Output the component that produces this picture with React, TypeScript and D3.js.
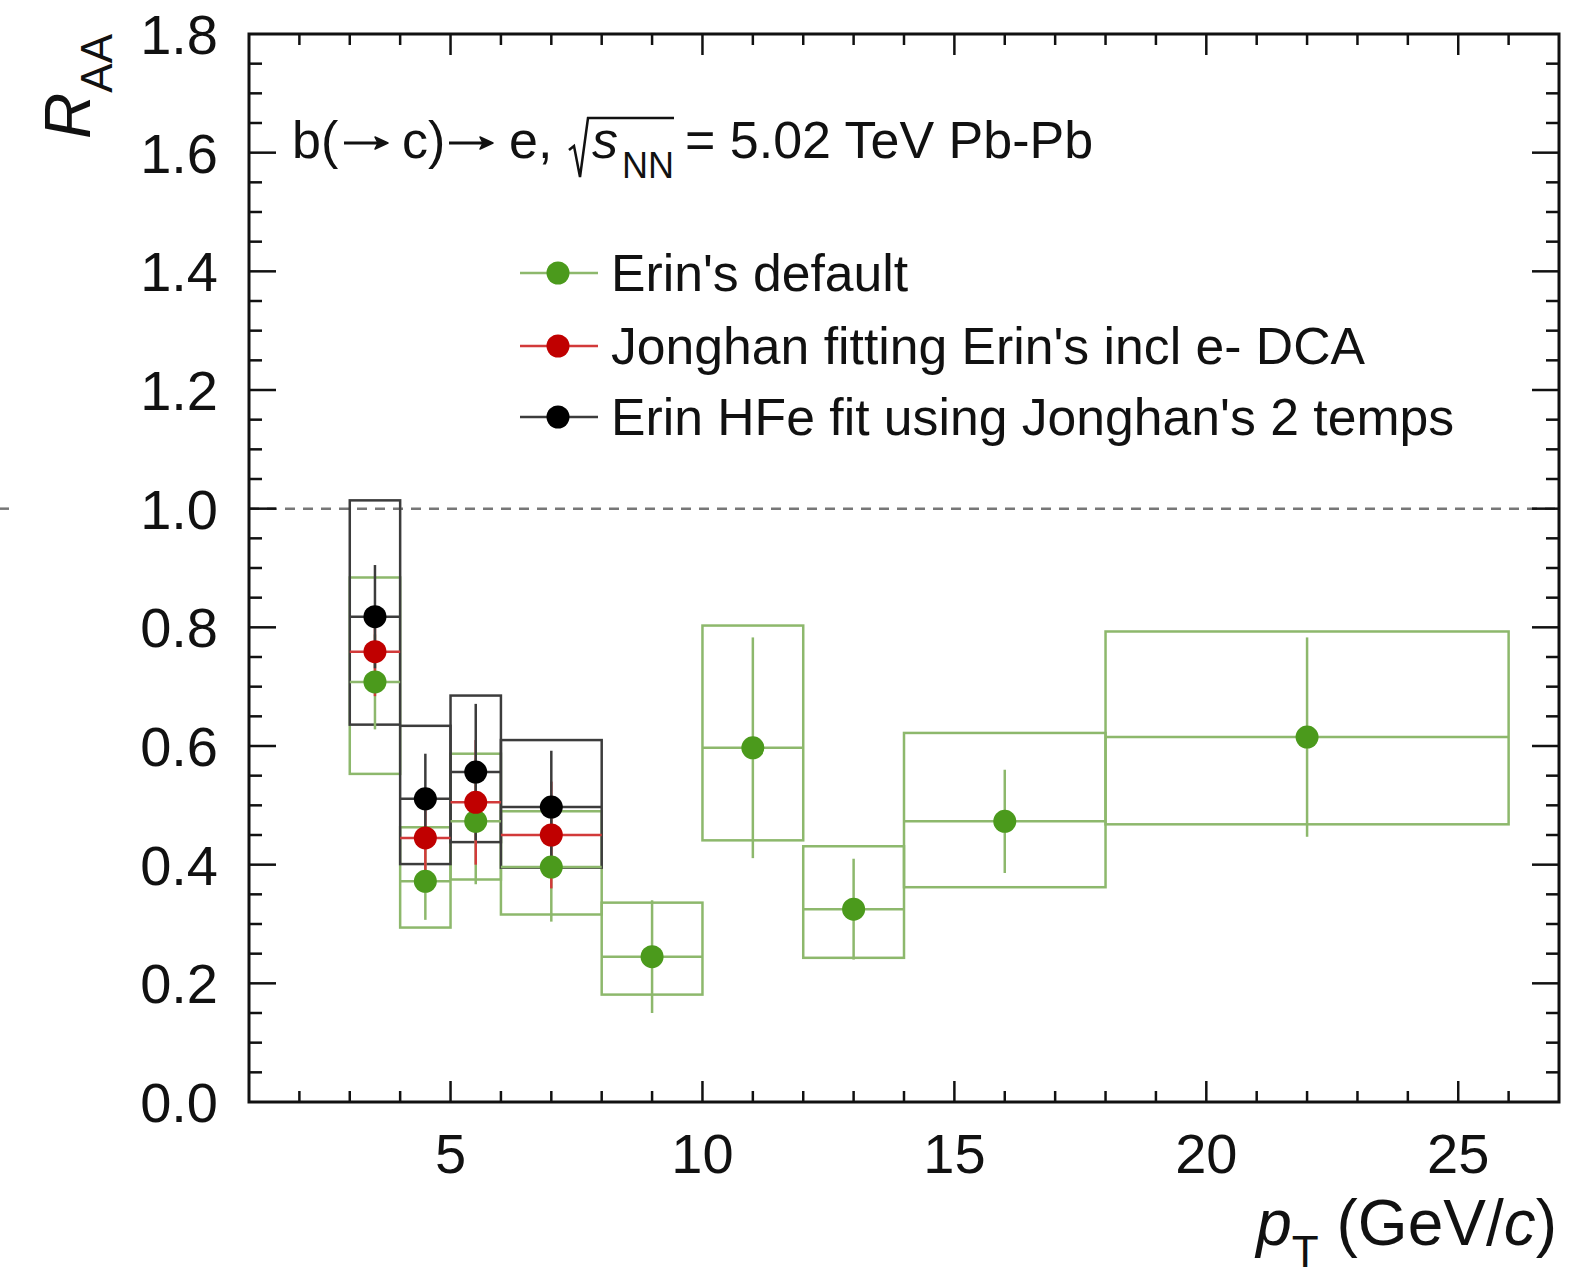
import React, { useEffect, useRef } from 'react';
import * as d3 from 'd3';

const W = 1569;
const H = 1269;

// Bins (pT, GeV/c)
const binLo = [3, 4, 5, 6, 8, 10, 12, 14, 18];
const binHi = [4, 5, 6, 8, 10, 12, 14, 18, 26];

// Erin's default (green)
const erinVal = [0.708, 0.372, 0.473, 0.396, 0.245, 0.597, 0.325, 0.473, 0.615];
const erinStat = [0.08, 0.065, 0.106, 0.092, 0.095, 0.186, 0.085, 0.087, 0.168];
const erinSysLo = [0.553, 0.294, 0.375, 0.316, 0.181, 0.441, 0.243, 0.362, 0.468];
const erinSysHi = [0.884, 0.463, 0.587, 0.49, 0.336, 0.803, 0.431, 0.622, 0.793];

// Jonghan fitting Erin's incl e- DCA (red)
const jongLo = [3, 4, 5, 6];
const jongHi = [4, 5, 6, 8];
const jongVal = [0.759, 0.445, 0.505, 0.45];
const jongStat = [0.075, 0.065, 0.105, 0.09];

// Erin HFe fit using Jonghan's 2 temps (black)
const hfeLo = [3, 4, 5, 6];
const hfeHi = [4, 5, 6, 8];
const hfeVal = [0.818, 0.511, 0.556, 0.497];
const hfeStat = [0.087, 0.076, 0.115, 0.095];
const hfeSysLo = [0.636, 0.401, 0.438, 0.395];
const hfeSysHi = [1.014, 0.634, 0.685, 0.61];

const yTicks = [0, 0.2, 0.4, 0.6, 0.8, 1.0, 1.2, 1.4, 1.6, 1.8];
const yTickLabels = ['0.0', '0.2', '0.4', '0.6', '0.8', '1.0', '1.2', '1.4', '1.6', '1.8'];
const xTicks = [5, 10, 15, 20, 25];
const xTickLabels = ['5', '10', '15', '20', '25'];
const legendLabels = [
  "Erin's default",
  "Jonghan fitting Erin's incl e- DCA",
  "Erin HFe fit using Jonghan's 2 temps",
];

const GREEN = '#4b9a1c';
const GREEN_LINE = '#8db86c';
const RED = '#c00000';
const RED_LINE = '#d23a3a';
const BLACK = '#000000';
const BLACK_LINE = '#3c3c3c';
const FONT = '"Liberation Sans", Arial, Helvetica, sans-serif';

export default function App() {
  const ref = useRef<SVGSVGElement | null>(null);

  useEffect(() => {
    const svg = d3.select(ref.current);
    svg.selectAll('*').remove();

    const x0 = 249, x1 = 1559, y0 = 34, y1 = 1102;
    const x = d3.scaleLinear().domain([1, 27]).range([x0, x1]);
    const y = d3.scaleLinear().domain([0, 1.8]).range([y1, y0]);

    svg.append('rect').attr('width', W).attr('height', H).attr('fill', '#fff');

    // dashed line at 1
    svg.append('line').attr('x1', 0).attr('x2', 9).attr('y1', y(1)).attr('y2', y(1))
      .attr('stroke', '#777').attr('stroke-width', 2.5);
    svg.append('line').attr('x1', x0).attr('x2', x1).attr('y1', y(1)).attr('y2', y(1))
      .attr('stroke', '#777').attr('stroke-width', 2.5).attr('stroke-dasharray', '10,8');

    const g = svg.append('g');

    const drawBoxes = (lo: number[], hi: number[], sLo: number[], sHi: number[], color: string) => {
      lo.forEach((l, i) => {
        g.append('rect')
          .attr('x', x(l)).attr('y', y(sHi[i]))
          .attr('width', x(hi[i]) - x(l)).attr('height', y(sLo[i]) - y(sHi[i]))
          .attr('fill', 'none').attr('stroke', color).attr('stroke-width', 2.5);
      });
    };
    const drawErr = (lo: number[], hi: number[], v: number[], s: number[], color: string) => {
      lo.forEach((l, i) => {
        const cx = x((l + hi[i]) / 2);
        g.append('line').attr('x1', x(l)).attr('x2', x(hi[i])).attr('y1', y(v[i])).attr('y2', y(v[i]))
          .attr('stroke', color).attr('stroke-width', 2.5);
        g.append('line').attr('x1', cx).attr('x2', cx).attr('y1', y(v[i] + s[i])).attr('y2', y(v[i] - s[i]))
          .attr('stroke', color).attr('stroke-width', 2.5);
      });
    };
    const drawPts = (lo: number[], hi: number[], v: number[], color: string) => {
      lo.forEach((l, i) => {
        g.append('circle').attr('cx', x((l + hi[i]) / 2)).attr('cy', y(v[i])).attr('r', 11.5).attr('fill', color);
      });
    };

    drawBoxes(binLo, binHi, erinSysLo, erinSysHi, GREEN_LINE);
    drawBoxes(hfeLo, hfeHi, hfeSysLo, hfeSysHi, BLACK_LINE);
    drawErr(binLo, binHi, erinVal, erinStat, GREEN_LINE);
    drawErr(jongLo, jongHi, jongVal, jongStat, RED_LINE);
    drawErr(hfeLo, hfeHi, hfeVal, hfeStat, BLACK_LINE);
    drawPts(binLo, binHi, erinVal, GREEN);
    drawPts(jongLo, jongHi, jongVal, RED);
    drawPts(hfeLo, hfeHi, hfeVal, BLACK);

    // frame
    svg.append('rect').attr('x', x0).attr('y', y0).attr('width', x1 - x0).attr('height', y1 - y0)
      .attr('fill', 'none').attr('stroke', '#111').attr('stroke-width', 3);

    // ticks
    const tk = svg.append('g').attr('stroke', '#111').attr('stroke-width', 2.5);
    for (let v = 2; v <= 26; v++) {
      const major = v % 5 === 0;
      const len = major ? 21 : 11;
      tk.append('line').attr('x1', x(v)).attr('x2', x(v)).attr('y1', y1).attr('y2', y1 - len);
      tk.append('line').attr('x1', x(v)).attr('x2', x(v)).attr('y1', y0).attr('y2', y0 + len);
    }
    for (let k = 1; k < 36; k++) {
      const v = k * 0.05;
      const major = k % 4 === 0;
      const len = major ? 27 : 13;
      tk.append('line').attr('x1', x0).attr('x2', x0 + len).attr('y1', y(v)).attr('y2', y(v));
      tk.append('line').attr('x1', x1).attr('x2', x1 - len).attr('y1', y(v)).attr('y2', y(v));
    }

    // tick labels
    yTicks.forEach((v, i) => {
      svg.append('text').attr('x', 218).attr('y', y(v) + 20).attr('text-anchor', 'end')
        .attr('font-family', FONT).attr('font-size', 56).attr('fill', '#111').text(yTickLabels[i]);
    });
    xTicks.forEach((v, i) => {
      svg.append('text').attr('x', x(v)).attr('y', 1173).attr('text-anchor', 'middle')
        .attr('font-family', FONT).attr('font-size', 56).attr('fill', '#111').text(xTickLabels[i]);
    });

    // axis titles
    const xt = svg.append('text').attr('x', 1557).attr('y', 1245).attr('text-anchor', 'end')
      .attr('font-family', FONT).attr('font-size', 64).attr('fill', '#111');
    xt.append('tspan').attr('font-style', 'italic').text('p');
    xt.append('tspan').attr('font-size', 44).attr('dy', 22).text('T');
    xt.append('tspan').attr('dy', -22).text(' (GeV/');
    xt.append('tspan').attr('font-style', 'italic').text('c');
    xt.append('tspan').text(')');

    const yt = svg.append('text').attr('transform', 'translate(90,34) rotate(-90)').attr('text-anchor', 'end')
      .attr('font-family', FONT).attr('font-size', 64).attr('fill', '#111');
    yt.append('tspan').attr('font-style', 'italic').text('R');
    yt.append('tspan').attr('font-size', 44).attr('dy', 22).text('AA');

    // title: b(→ c)→ e, √s_NN = 5.02 TeV Pb-Pb
    const tb = 158;
    const tf = 52;
    const addText = (tx: number, ty: number, s: string, size: number, italic = false) =>
      svg.append('text').attr('x', tx).attr('y', ty).attr('font-family', FONT)
        .attr('font-size', size).attr('font-style', italic ? 'italic' : 'normal').attr('fill', '#111').text(s);
    const arrow = (ax: number, ay: number, len: number) => {
      svg.append('line').attr('x1', ax).attr('x2', ax + len - 8).attr('y1', ay).attr('y2', ay)
        .attr('stroke', '#111').attr('stroke-width', 3);
      svg.append('path')
        .attr('d', `M${ax + len},${ay} L${ax + len - 13},${ay - 6} L${ax + len - 10},${ay} L${ax + len - 13},${ay + 6} Z`)
        .attr('fill', '#111').attr('stroke', '#111').attr('stroke-width', 1.5).attr('stroke-linejoin', 'round');
    };
    addText(292, tb, 'b(', tf);
    arrow(344, 143, 44);
    addText(402, tb, 'c)', tf);
    arrow(449, 143, 44);
    addText(509, tb, 'e,', tf);
    svg.append('path')
      .attr('d', `M569,150 L574,146 L580,177 L588,118 L674,118`)
      .attr('fill', 'none').attr('stroke', '#111').attr('stroke-width', 2.5);
    addText(592, tb, 's', tf, true);
    addText(622, 178, 'NN', 36);
    addText(685, tb, '= 5.02 TeV Pb-Pb', tf);

    // legend
    const lgY = [273, 346, 417];
    const lgLine = [GREEN_LINE, RED_LINE, BLACK_LINE];
    const lgPt = [GREEN, RED, BLACK];
    legendLabels.forEach((lab, i) => {
      svg.append('line').attr('x1', 520).attr('x2', 598).attr('y1', lgY[i]).attr('y2', lgY[i])
        .attr('stroke', lgLine[i]).attr('stroke-width', 2.5);
      svg.append('circle').attr('cx', 558).attr('cy', lgY[i]).attr('r', 11.5).attr('fill', lgPt[i]);
      svg.append('text').attr('x', 611).attr('y', lgY[i] + 18).attr('font-family', FONT)
        .attr('font-size', 51.7).attr('fill', '#111').text(lab);
    });
  }, []);

  return (
    <svg ref={ref} width={W} height={H} style={{ position: 'absolute', left: 0, top: 0 }} />
  );
}
